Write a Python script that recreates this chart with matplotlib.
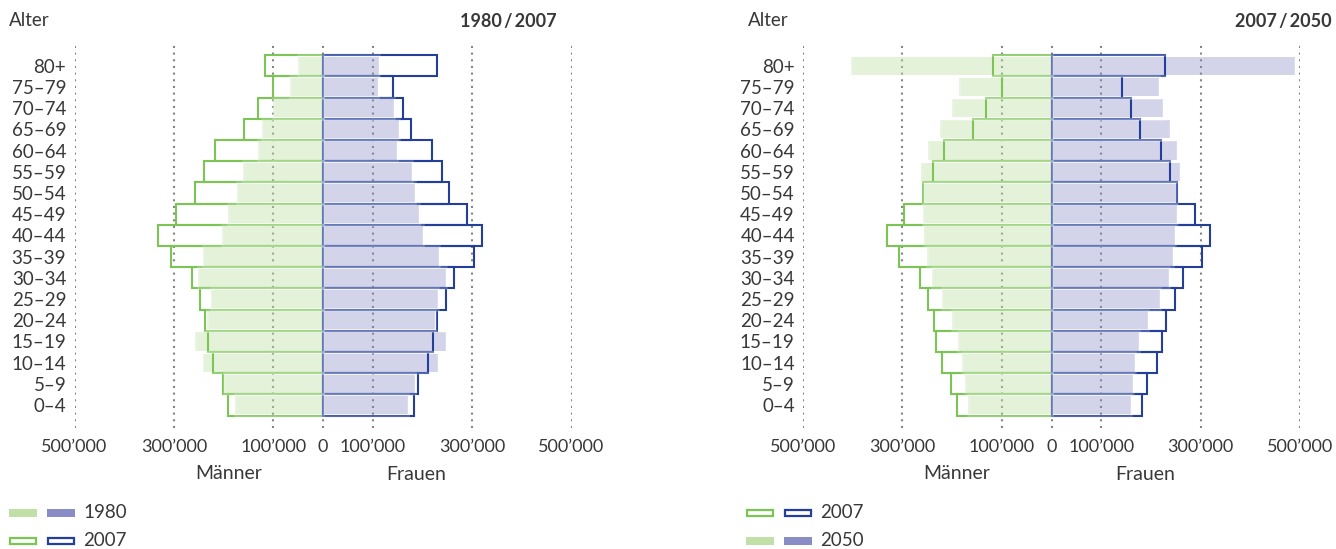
import numpy as np
import matplotlib
matplotlib.use("Agg")
import matplotlib.pyplot as plt
from matplotlib.patches import Rectangle

plt.rcParams['font.family'] = ['Lato', 'DejaVu Sans']

ages = ["0–4", "5–9", "10–14", "15–19", "20–24", "25–29", "30–34", "35–39",
        "40–44", "45–49", "50–54", "55–59", "60–64", "65–69", "70–74", "75–79", "80+"]

# population, from youngest to oldest group
men_1980 = [178000, 200000, 241000, 257000, 234000, 225000, 252000, 242000,
            204000, 191000, 174000, 161000, 131000, 122000, 100000, 67000, 50000]
women_1980 = [172000, 186000, 232000, 248000, 226000, 232000, 248000, 234000,
              202000, 194000, 186000, 179000, 148000, 152000, 143000, 110000, 112000]
men_2007 = [191000, 202000, 221000, 232000, 237000, 248000, 264000, 306000,
            331000, 296000, 258000, 239000, 217000, 158000, 131000, 100000, 117000]
women_2007 = [183000, 192000, 212000, 222000, 230000, 248000, 264000, 303000,
              319000, 289000, 253000, 239000, 220000, 178000, 160000, 141000, 229000]
men_2050 = [168000, 174000, 181000, 188000, 201000, 221000, 240000, 250000,
            257000, 259000, 258000, 262000, 249000, 225000, 201000, 186000, 403000]
women_2050 = [160000, 164000, 169000, 177000, 194000, 218000, 236000, 245000,
              249000, 252000, 250000, 259000, 253000, 238000, 225000, 216000, 490000]

grid_x = [-500000, -300000, -100000, 0, 100000, 300000, 500000]
grid_labels = ["500’000", "300’000", "100’000", "0", "100’000", "300’000", "500’000"]

green_line = '#7ac554'
blue_line = '#233f9a'
green_solid = '#c0e0a8'
blue_solid = '#8a8cc5'
text_col = '#383838'

W, H = 1336, 549
fig = plt.figure(figsize=(W / 100, H / 100), dpi=100)


def pyramid(ax, fill_m, fill_w, line_m, line_w):
    y = np.arange(len(ages))
    fm = -np.array(fill_m)
    lm = -np.array(line_m)
    for gx in grid_x:
        ax.axvline(gx, color='#858585', lw=1.5, linestyle=(0, (1, 2.2)), zorder=0)
    ax.barh(y, fm, height=0.86, color=green_solid, alpha=0.42, lw=0, zorder=1)
    ax.barh(y, fill_w, height=0.86, color=blue_solid, alpha=0.37, lw=0, zorder=1)
    ax.barh(y, lm, height=1.0, fill=False, edgecolor=green_line, lw=1.5, zorder=2)
    ax.barh(y, line_w, height=1.0, fill=False, edgecolor=blue_line, lw=1.5, zorder=2)
    # soft white rim of the filled bars, lightens the outline where they meet
    ax.barh(y, fm, height=1.0, fill=False, edgecolor=(1, 1, 1, 0.22), lw=1.8, zorder=3)
    ax.barh(y, fill_w, height=1.0, fill=False, edgecolor=(1, 1, 1, 0.22), lw=1.8, zorder=3)
    ax.set_xlim(-500000, 500000)
    ax.set_ylim(-1.08, 17.07)
    for s in ax.spines.values():
        s.set_visible(False)
    ax.set_xticks(grid_x, grid_labels)
    ax.set_yticks(y, ages)
    ax.tick_params(axis='x', length=0, pad=8, labelsize=13, labelcolor=text_col)
    ax.tick_params(axis='y', length=0, pad=6, labelsize=13.5, labelcolor=text_col)
    tr = ax.get_xaxis_transform()
    ax.text(-190000, -0.117, "Männer", transform=tr, ha='center', va='center',
            fontsize=14, color=text_col)
    ax.text(188000, -0.12, "Frauen", transform=tr, ha='center', va='center',
            fontsize=14, color=text_col)


axL = fig.add_axes([74.5 / W, 121 / H, 497 / W, 385 / H])
pyramid(axL, men_1980, women_1980, men_2007, women_2007)
axR = fig.add_axes([803 / W, 121 / H, 497 / W, 385 / H])
pyramid(axR, men_2050, women_2050, men_2007, women_2007)

fig.text(9 / W, 1 - 21 / H, "Alter", fontsize=13.5, color=text_col, va='center')
fig.text(557 / W, 1 - 21 / H, "1980\u2009/\u20092007", fontsize=13, color=text_col,
         va='center', ha='right', weight='bold')
fig.text(748 / W, 1 - 21 / H, "Alter", fontsize=13.5, color=text_col, va='center')
fig.text(1332 / W, 1 - 21 / H, "2007\u2009/\u20092050", fontsize=13, color=text_col,
         va='center', ha='right', weight='bold')


def legend_row(x0, yc, label, solid):
    for i, (sc, lc) in enumerate([(green_solid, green_line), (blue_solid, blue_line)]):
        x = x0 + i * 38
        if solid:
            r = Rectangle((x / W, 1 - (yc + 4) / H), 28 / W, 8 / H, facecolor=sc,
                          edgecolor='none', transform=fig.transFigure)
        else:
            r = Rectangle(((x + 1) / W, 1 - (yc + 3) / H), 26 / W, 6 / H, facecolor='white',
                          edgecolor=lc, lw=1.6, transform=fig.transFigure)
        fig.add_artist(r)
    fig.text((x0 + 74) / W, 1 - yc / H, label, fontsize=13.5, color=text_col, va='center')


legend_row(9, 513, "1980", True)
legend_row(9, 541, "2007", False)
legend_row(746, 513, "2007", False)
legend_row(746, 541, "2050", True)

fig.savefig("out.png", dpi=100)
